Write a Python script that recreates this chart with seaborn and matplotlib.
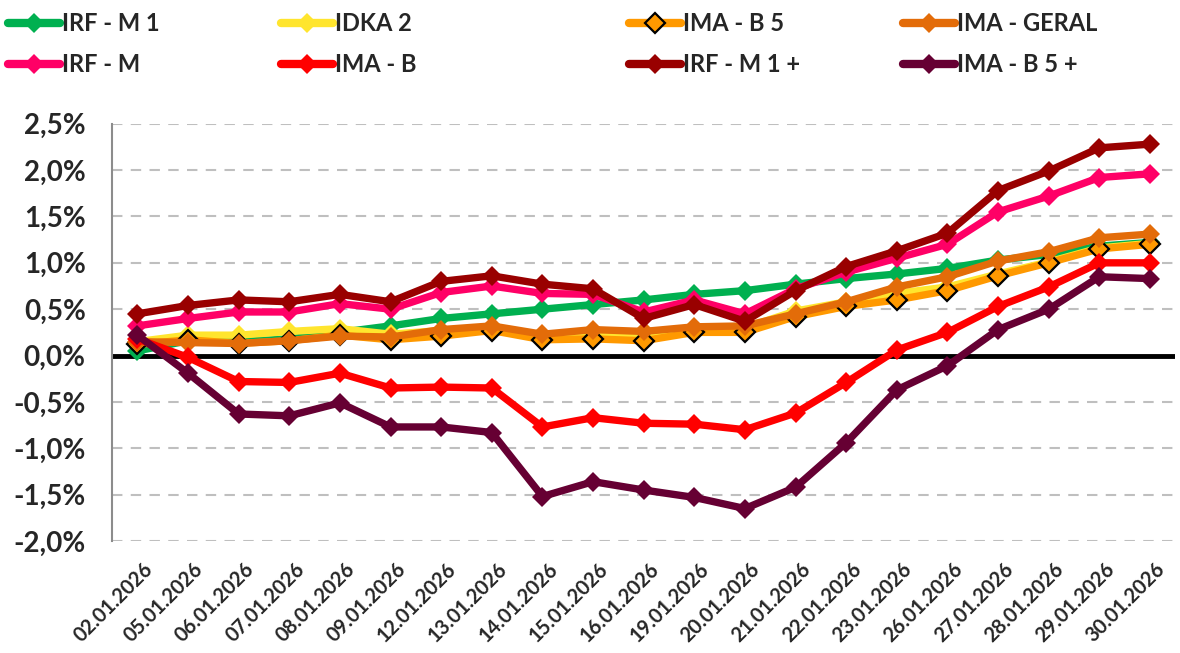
import numpy as np
import pandas as pd
import matplotlib
matplotlib.use("Agg")
import matplotlib.pyplot as plt
from matplotlib.ticker import FuncFormatter, MultipleLocator
from matplotlib.lines import Line2D
from matplotlib.transforms import ScaledTranslation
import seaborn as sns

# dates on the category axis
dates = ["02.01.2026", "05.01.2026", "06.01.2026", "07.01.2026", "08.01.2026",
         "09.01.2026", "12.01.2026", "13.01.2026", "14.01.2026", "15.01.2026",
         "16.01.2026", "19.01.2026", "20.01.2026", "21.01.2026", "22.01.2026",
         "23.01.2026", "26.01.2026", "27.01.2026", "28.01.2026", "29.01.2026",
         "30.01.2026"]

# accumulated return in %
irf_m1 = [0.05, 0.16, 0.15, 0.18, 0.25, 0.32, 0.40, 0.45, 0.50, 0.55, 0.60,
          0.66, 0.70, 0.77, 0.83, 0.88, 0.94, 1.03, 1.09, 1.18, 1.22]
idka2 = [0.15, 0.22, 0.22, 0.26, 0.29, 0.23, 0.27, 0.30, 0.22, 0.24, 0.22,
         0.30, 0.30, 0.48, 0.58, 0.67, 0.74, 0.88, 1.01, 1.16, 1.21]
ima_b5 = [0.12, 0.17, 0.13, 0.16, 0.22, 0.17, 0.21, 0.27, 0.17, 0.18, 0.16,
          0.25, 0.25, 0.42, 0.53, 0.60, 0.70, 0.86, 1.00, 1.15, 1.20]
ima_geral = [0.15, 0.14, 0.13, 0.16, 0.21, 0.20, 0.28, 0.32, 0.23, 0.28, 0.26,
             0.31, 0.32, 0.45, 0.58, 0.74, 0.85, 1.02, 1.12, 1.27, 1.31]
irf_m = [0.32, 0.40, 0.47, 0.47, 0.56, 0.50, 0.68, 0.75, 0.67, 0.66, 0.47,
         0.60, 0.45, 0.72, 0.90, 1.05, 1.20, 1.55, 1.72, 1.92, 1.96]
ima_b = [0.18, -0.02, -0.28, -0.29, -0.19, -0.35, -0.34, -0.35, -0.77, -0.67, -0.73,
         -0.74, -0.80, -0.62, -0.29, 0.06, 0.25, 0.53, 0.74, 1.00, 1.00]
irf_m1_plus = [0.45, 0.54, 0.60, 0.58, 0.66, 0.58, 0.80, 0.86, 0.77, 0.72, 0.40,
               0.55, 0.37, 0.70, 0.96, 1.13, 1.32, 1.78, 1.99, 2.24, 2.28]
ima_b5_plus = [0.22, -0.19, -0.63, -0.65, -0.51, -0.77, -0.77, -0.83, -1.52, -1.36, -1.45,
               -1.53, -1.65, -1.42, -0.94, -0.37, -0.11, 0.28, 0.50, 0.85, 0.83]

names = ["IRF - M 1", "IDKA 2", "IMA - B 5", "IMA - GERAL",
         "IRF - M", "IMA - B", "IRF - M 1 +", "IMA - B 5 +"]
series = [irf_m1, idka2, ima_b5, ima_geral, irf_m, ima_b, irf_m1_plus, ima_b5_plus]
colors = ["#00B050", "#FFE52E", "#FF9900", "#E36C09",
          "#FF0066", "#FF0000", "#990000", "#660033"]

sns.set_style("white")
plt.rcParams["font.family"] = ["Lato", "DejaVu Sans"]
plt.rcParams["font.weight"] = "bold"

fig = plt.figure(figsize=(11.8, 6.53), dpi=100)
ax = fig.add_axes([0.095, 0.1715, 0.901, 0.639])

x = np.arange(len(dates))
handles = {}
for i, (name, vals, c) in enumerate(zip(names, series, colors)):
    edge = "black" if name == "IMA - B 5" else c
    mew = 1.6 if edge == "black" else 0
    sns.lineplot(x=x, y=vals, ax=ax, color=c, lw=5.3, marker="D", markersize=10.5,
                 markeredgecolor=edge, markeredgewidth=mew, zorder=3 + i)
    handles[name] = Line2D([], [], color=c, lw=6, marker="D", markersize=10.5,
                           markeredgecolor=edge, markeredgewidth=mew,
                           solid_capstyle="round")

ax.axhline(0, color="black", lw=3.5, zorder=2)
ax.set_xlim(-0.5, len(dates) - 0.5)
ax.set_ylim(-2.0, 2.5)
ax.yaxis.set_major_locator(MultipleLocator(0.5))
ax.yaxis.set_major_formatter(FuncFormatter(lambda v, p: f"{v:.1f}%".replace(".", ",")))
ax.grid(axis="y", color="#BFBFBF", lw=1.5, ls=(0, (5, 4)))
ax.set_xticks(x)
ax.set_xticklabels(dates, rotation=45, ha="right", rotation_mode="anchor",
                   fontsize=14.5, fontweight="bold")
ax.tick_params(axis="y", labelsize=20, length=0, pad=19)
ax.tick_params(axis="x", length=0, pad=13)
shift = ScaledTranslation(5 / 100, 0, fig.dpi_scale_trans)
for lab in ax.get_xticklabels():
    lab.set_transform(lab.get_transform() + shift)
for s in ["top", "right", "bottom"]:
    ax.spines[s].set_visible(False)
ax.spines["left"].set_color("#8C8C8C")
ax.spines["left"].set_linewidth(1.5)
ax.set_xlabel("")
ax.set_ylabel("")

# legend: four columns of two entries, placed like the original
cols = [["IRF - M 1", "IRF - M"], ["IDKA 2", "IMA - B"],
        ["IMA - B 5", "IRF - M 1 +"], ["IMA - GERAL", "IMA - B 5 +"]]
col_x = [8, 281, 629, 903]
for labels, px in zip(cols, col_x):
    fig.legend([handles[n] for n in labels], labels, loc="upper left",
               bbox_to_anchor=(px / 1180, 1 - 12 / 653), frameon=False,
               prop={"size": 17, "weight": "bold"}, handlelength=2.2,
               handletextpad=0.1, labelspacing=0.76, borderpad=0,
               borderaxespad=0)

plt.savefig("out.png", dpi=100)
